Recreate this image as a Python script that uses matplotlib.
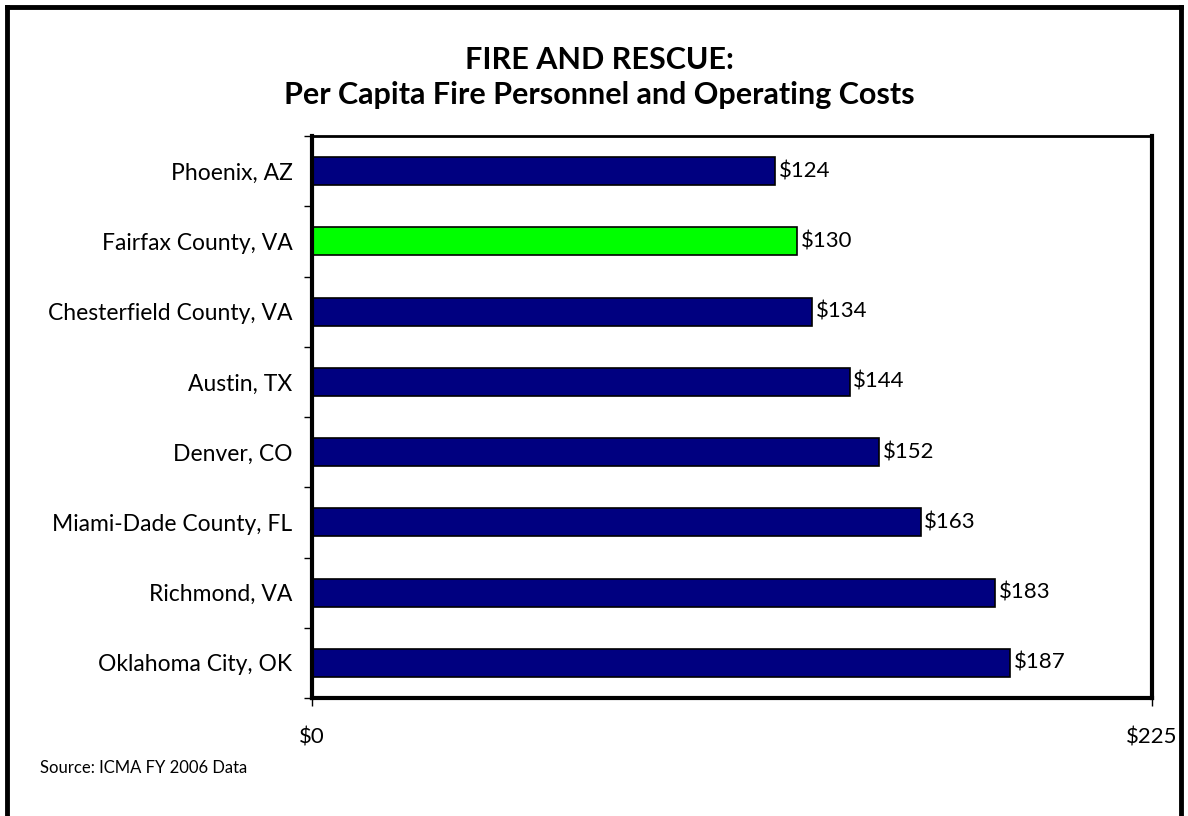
import matplotlib
matplotlib.use("Agg")
import matplotlib.pyplot as plt

cities = ["Phoenix, AZ", "Fairfax County, VA", "Chesterfield County, VA", "Austin, TX",
          "Denver, CO", "Miami-Dade County, FL", "Richmond, VA", "Oklahoma City, OK"]
costs = [124, 130, 134, 144, 152, 163, 183, 187]
highlight = "Fairfax County, VA"
x_ticks = [0, 225]
x_tick_labels = ["$0", "$225"]

plt.rcParams['font.family'] = ['Lato', 'DejaVu Sans']

W, H = 1188, 816
fig = plt.figure(figsize=(W / 100, H / 100), dpi=100)
fig.patch.set_facecolor("white")

# outer frame (left, top, right)
for xs, ys in [([7, 7], [816, 7]), ([7, 1181], [7, 7]), ([1181, 1181], [7, 816])]:
    fig.add_artist(plt.Line2D([x / W for x in xs], [1 - y / H for y in ys],
                              color="black", lw=3.5, transform=fig.transFigure))

ax_l, ax_r, ax_t, ax_b = 312, 1152, 136, 698
ax = fig.add_axes([ax_l / W, 1 - ax_b / H, (ax_r - ax_l) / W, (ax_b - ax_t) / H])

n = len(cities)
ypos = list(range(n))
colors = ["#00FF00" if c == highlight else "#000080" for c in cities]
ax.barh(ypos, costs, height=0.4, color=colors, edgecolor="black", linewidth=1.2)
ax.set_ylim(n - 0.5, -0.5)
ax.set_xlim(0, 225)

for y, v in zip(ypos, costs):
    ax.text(v + 1.0, y, f"${v}", va="center", ha="left", fontsize=16, color="black")

# category labels centred on bars, ticks on category boundaries
ax.set_yticks([i - 0.5 for i in range(n + 1)])
ax.set_yticklabels([])
ax.set_yticks(ypos, minor=True)
ax.set_yticklabels(cities, minor=True, fontsize=16.5)
ax.tick_params(axis="y", which="major", direction="out", length=6, width=1)
ax.tick_params(axis="y", which="minor", length=0, pad=14)

ax.set_xticks(x_ticks)
ax.set_xticklabels(x_tick_labels, fontsize=16)
ax.tick_params(axis="x", direction="out", length=6, width=1, pad=15)

for side in ["left", "bottom", "right"]:
    ax.spines[side].set_linewidth(3)
ax.spines["top"].set_linewidth(2)

fig.text(599 / W, 1 - 69 / H, "FIRE AND RESCUE:", ha="center", va="baseline",
         fontsize=22, fontweight="bold")
fig.text(599 / W, 1 - 104 / H, "Per Capita Fire Personnel and Operating Costs",
         ha="center", va="baseline", fontsize=22, fontweight="bold")
fig.text(40 / W, 1 - 768 / H, "Source: ICMA FY 2006 Data", ha="left", va="center", fontsize=12)

fig.savefig("out.png", dpi=100, facecolor="white")
